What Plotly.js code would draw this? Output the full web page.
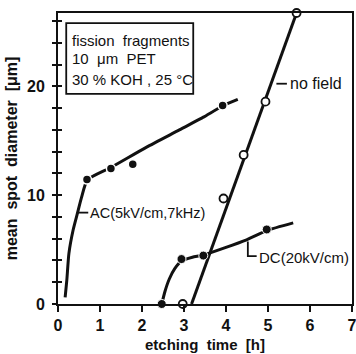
<!DOCTYPE html>
<html>
<head>
<meta charset="utf-8">
<script src="https://cdn.plot.ly/plotly-3.0.1.min.js"></script>
<style>
  html, body { margin: 0; padding: 0; background: #fff; }
  #chart { width: 356px; height: 354px; }
</style>
</head>
<body>
<div id="chart"></div>
<script>
// Etching time in hours, mean spot diameter in micrometres.

// AC field (5 kV/cm, 7 kHz): measured points and drawn curve
const acTime = [0.69, 1.26, 1.78, 3.92];
const acDiameter = [11.45, 12.45, 12.85, 18.25];
const acCurveTime = [0.17, 0.21, 0.26, 0.36, 0.46, 0.56, 0.70, 1.26, 2.10, 2.89, 3.45, 3.92, 4.28];
const acCurveDiameter = [0.6, 2.2, 4.65, 6.8, 8.3, 9.8, 11.4, 12.55, 14.4, 16.0, 17.15, 18.2, 18.8];

// DC field (20 kV/cm): measured points and drawn curve
const dcTime = [2.47, 2.94, 3.46, 4.97];
const dcDiameter = [0, 4.13, 4.45, 6.85];
const dcCurveTime = [2.47, 2.55, 2.65, 2.78, 2.94, 3.2, 3.46, 4.49, 4.97, 5.6];
const dcCurveDiameter = [0, 1.2, 2.3, 3.25, 3.95, 4.3, 4.5, 5.9, 6.75, 7.46];

// No field: measured points and straight line
const nfTime = [2.97, 3.94, 4.42, 4.94, 5.68];
const nfDiameter = [0, 9.7, 13.7, 18.6, 26.75];
const nfLineTime = [3.18, 5.68];
const nfLineDiameter = [0, 26.75];

// Axis ticks
const xTicks = [0, 1, 2, 3, 4, 5, 6, 7];
const xTickLabels = ['0', '1', '2', '3', '4', '5', '6', '7'];
const yTicks = [0, 10, 20];
const yTickLabels = ['0', '10', '20'];

const FONT = 'Liberation Sans, Arial, sans-serif';
const INK = '#111';
const Y_RANGE = [0, 26.75];

const lineStyle = { color: INK, width: 3, shape: 'spline', smoothing: 0.6 };

const traces = [
  { x: acCurveTime, y: acCurveDiameter, mode: 'lines', line: lineStyle, hoverinfo: 'skip' },
  { x: dcCurveTime, y: dcCurveDiameter, mode: 'lines', line: lineStyle, hoverinfo: 'skip' },
  { x: nfLineTime, y: nfLineDiameter, mode: 'lines', line: { color: INK, width: 3 }, hoverinfo: 'skip' },
  { x: acTime, y: acDiameter, mode: 'markers', cliponaxis: false,
    marker: { size: 9, color: INK, line: { color: '#fff', width: 1.5 } } },
  { x: dcTime, y: dcDiameter, mode: 'markers', cliponaxis: false,
    marker: { size: 9, color: INK, line: { color: '#fff', width: 1 } } },
  { x: nfTime, y: nfDiameter, mode: 'markers', cliponaxis: false,
    marker: { size: 8, color: '#fff', line: { color: INK, width: 1.8 } } },
  // carrier for the inward half of the crossing y ticks
  { x: [0], y: [0], mode: 'markers', yaxis: 'y2', marker: { opacity: 0 }, hoverinfo: 'skip' }
];

const nb = '\u00a0';
const labelFont = { family: FONT, size: 15, color: INK };
const layout = {
  width: 356,
  height: 354,
  margin: { l: 58, r: 4, t: 13, b: 50 },
  paper_bgcolor: '#fff',
  plot_bgcolor: '#fff',
  showlegend: false,
  font: { family: FONT, color: INK, size: 15 },
  xaxis: {
    range: [0, 7],
    tickvals: xTicks,
    ticktext: xTickLabels,
    ticks: 'outside', ticklen: 6, tickwidth: 2, tickcolor: INK,
    ticklabeloverflow: 'allow',
    showline: true, linewidth: 2, linecolor: INK, mirror: true,
    showgrid: false, zeroline: false,
    tickfont: { family: FONT, size: 16, color: INK, weight: 'bold' },
    title: { text: 'etching' + nb + nb + 'time' + nb + nb + '[h]', standoff: 6,
             font: { family: FONT, size: 15, color: INK, weight: 'bold' } }
  },
  yaxis: {
    range: Y_RANGE,
    tickvals: yTicks,
    ticktext: yTickLabels,
    ticks: 'outside', ticklen: 4, tickwidth: 2, tickcolor: INK,
    minor: { dtick: 2, ticks: 'outside', ticklen: 4, tickwidth: 2, tickcolor: INK },
    showline: true, linewidth: 2, linecolor: INK, mirror: true,
    showgrid: false, zeroline: false,
    tickfont: { family: FONT, size: 16, color: INK, weight: 'bold' },
    ticklabelstandoff: 4,
    title: { text: 'mean' + nb + nb + 'spot' + nb + nb + 'diameter' + nb + nb + '[μm]', standoff: 5,
             font: { family: FONT, size: 16, color: INK, weight: 'bold' } }
  },
  yaxis2: {
    overlaying: 'y', side: 'left',
    range: Y_RANGE,
    tickvals: yTicks,
    showticklabels: false,
    ticks: 'inside', ticklen: 4, tickwidth: 2, tickcolor: INK,
    minor: { dtick: 2, ticks: 'inside', ticklen: 4, tickwidth: 2, tickcolor: INK },
    showline: false, showgrid: false, zeroline: false
  },
  shapes: [
    // box around the conditions note
    { type: 'rect', xref: 'paper', yref: 'paper', x0: 0.028, x1: 0.46, y0: 0.722, y1: 0.965,
      line: { color: INK, width: 1.8 } },
    // leader for "no field"
    { type: 'line', x0: 5.2, x1: 5.45, y0: 20.25, y1: 20.25, line: { color: INK, width: 1.8 } },
    // leader for AC label
    { type: 'line', x0: 0.47, x1: 0.72, y0: 8.4, y1: 8.4, line: { color: INK, width: 1.8 } },
    // L-shaped leader for DC label
    { type: 'path', path: 'M 4.52 5.75 L 4.52 4.4 L 4.73 4.4', line: { color: INK, width: 1.8 } }
  ],
  annotations: [
    { xref: 'paper', yref: 'paper', x: 0.04, y: 0.905, xanchor: 'left', yanchor: 'middle', showarrow: false,
      text: 'fission' + nb + nb + 'fragments', font: labelFont },
    { xref: 'paper', yref: 'paper', x: 0.04, y: 0.842, xanchor: 'left', yanchor: 'middle', showarrow: false,
      text: '10' + nb + nb + 'μm' + nb + nb + 'PET', font: labelFont },
    { xref: 'paper', yref: 'paper', x: 0.04, y: 0.772, xanchor: 'left', yanchor: 'middle', showarrow: false,
      text: '30 %' + nb + 'KOH , 25 °C', font: labelFont },
    { x: 5.47, y: 20.25, xanchor: 'left', yanchor: 'middle', showarrow: false,
      text: 'no' + nb + 'field', font: { family: FONT, size: 16, color: INK } },
    { x: 0.72, y: 8.4, xanchor: 'left', yanchor: 'middle', showarrow: false,
      text: 'AC(5kV/cm,7kHz)', font: { family: FONT, size: 14.5, color: INK } },
    { x: 4.74, y: 4.3, xanchor: 'left', yanchor: 'middle', showarrow: false,
      text: 'DC(20kV/cm)', font: labelFont }
  ]
};

Plotly.newPlot('chart', traces, layout, { displayModeBar: false, staticPlot: true });
</script>
</body>
</html>
